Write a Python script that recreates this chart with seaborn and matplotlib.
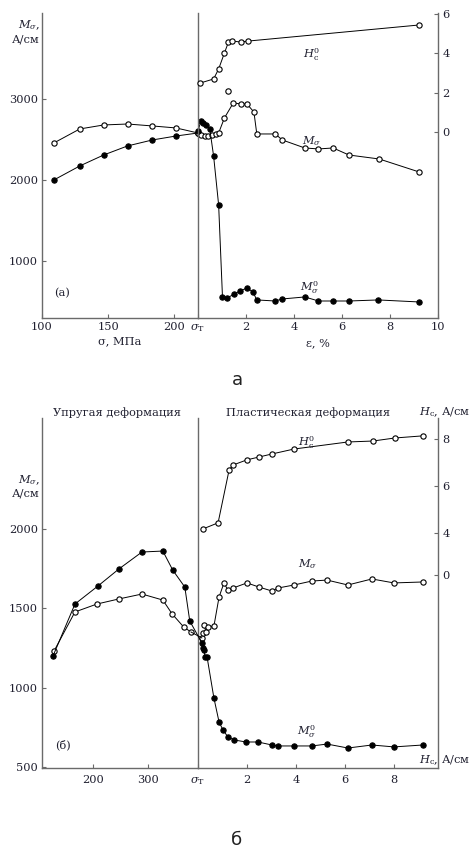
import numpy as np
import pandas as pd
import matplotlib
matplotlib.use("Agg")
import matplotlib.pyplot as plt
from matplotlib.patches import ConnectionPatch
import seaborn as sns

# ---------------- panel (а) ----------------
# elastic part: sigma, MPa
a_sigma = [109, 128.6, 146.6, 164.7, 183.5, 201.5, 218]
a_M_open = [2457, 2630, 2679, 2691, 2667, 2642, 2580]
a_M_fill = [2000, 2173, 2308, 2420, 2494, 2543, 2580]
# plastic part: eps, %
a_eps_Hc = [0.08, 0.65, 0.86, 1.10, 1.27, 1.43, 1.80, 2.08, 9.22]
a_Hc = [2.49, 2.70, 3.21, 4.02, 4.58, 4.63, 4.58, 4.63, 5.45]
a_eps_M = [0.0, 0.12, 0.29, 0.41, 0.57, 0.73, 0.86, 1.10, 1.47, 1.80, 2.04,
           2.33, 2.45, 3.22, 3.51, 4.45, 5.02, 5.63, 6.29, 7.55, 9.22]
a_M = [2580, 2555, 2543, 2543, 2555, 2568, 2580, 2765, 2951, 2938, 2938,
       2839, 2568, 2568, 2494, 2395, 2383, 2395, 2308, 2259, 2098]
a_eps_M_extra = [1.27]
a_M_extra = [3099]
a_eps_M0 = [0.0, 0.12, 0.20, 0.33, 0.49, 0.65, 0.86, 1.02, 1.22, 1.51, 1.76,
            2.04, 2.29, 2.45, 3.22, 3.51, 4.45, 5.02, 5.63, 6.29, 7.51, 9.22]
a_M0 = [2605, 2728, 2704, 2679, 2630, 2296, 1691, 555, 542, 592, 629,
        666, 616, 518, 505, 530, 555, 505, 505, 505, 518, 493]

# ---------------- panel (б) ----------------
b_sigma_fill = [127, 167, 209, 247, 289, 327, 345, 367, 376]
b_M_fill = [1199, 1527, 1641, 1748, 1855, 1861, 1741, 1634, 1420]
b_sigma_open = [129, 167, 207, 247, 289, 327, 344, 365, 378]
b_M_open = [1231, 1477, 1527, 1559, 1590, 1552, 1464, 1382, 1351]
b_eps_M = [0.16, 0.20, 0.33, 0.24, 0.41, 0.65, 0.86, 1.06, 1.22, 1.43, 2.0,
           2.49, 3.02, 3.27, 3.92, 4.65, 5.27, 6.12, 7.10, 8.0, 9.18]
b_M = [1313, 1344, 1351, 1395, 1382, 1388, 1571, 1660, 1615, 1628, 1660,
       1634, 1609, 1628, 1647, 1672, 1678, 1647, 1685, 1660, 1666]
b_eps_M0 = [0.16, 0.20, 0.24, 0.29, 0.37, 0.65, 0.86, 1.02, 1.22, 1.47, 1.96,
            2.45, 3.02, 3.27, 3.92, 4.65, 5.27, 6.12, 7.10, 8.0, 9.18]
b_M0 = [1281, 1250, 1237, 1193, 1193, 934, 783, 733, 689, 670, 657,
        657, 638, 632, 632, 632, 644, 619, 638, 626, 638]
b_eps_Hc = [0.2, 0.82, 1.27, 1.43, 2.0, 2.49, 3.02, 3.92, 6.12, 7.14, 8.04, 9.18]
b_Hc = [4.17, 4.43, 6.68, 6.89, 7.11, 7.23, 7.36, 7.57, 7.87, 7.91, 8.04, 8.13]

# ticks
a_sigma_ticks = [100, 150, 200]
a_eps_ticks = [0, 2, 4, 6, 8, 10]
a_M_ticks = [1000, 2000, 3000]
a_Hc_ticks = [0, 2, 4, 6]
b_sigma_ticks = [200, 300]
b_eps_ticks = [0, 2, 4, 6, 8]
b_M_ticks = [500, 1000, 1500, 2000]
b_Hc_ticks = [2.2, 4, 6, 8]          # axis is broken in the original: lowest mark reads 0
b_Hc_ticklabels = ["0", "4", "6", "8"]
sigT = r"$\sigma_\mathrm{T}$"

sns.set_style("ticks")
plt.rcParams["font.family"] = ["DejaVu Serif"]
plt.rcParams["mathtext.fontset"] = "dejavuserif"
FS = 8.2
TXT = "#202030"
SP = "#6a6a6a"

W, H = 471, 848
fig = plt.figure(figsize=(W / 100, H / 100), dpi=100)


def box(x0, x1, y0, y1):
    return [x0 / W, 1 - y1 / H, (x1 - x0) / W, (y1 - y0) / H]


def curve(ax, x, y, filled):
    sns.lineplot(x=x, y=y, ax=ax, estimator=None, sort=False, color="black",
                 lw=0.7, marker="o", markersize=3.8,
                 markerfacecolor="black" if filled else "white",
                 markeredgecolor="black", markeredgewidth=0.8, clip_on=False)


def style(ax):
    for s in ax.spines.values():
        s.set_color(SP)
        s.set_linewidth(1.0)
    ax.spines["top"].set_visible(False)
    ax.tick_params(direction="in", length=3, color=SP, labelsize=FS,
                   labelcolor=TXT, pad=3)


def link(axA, xa, ya, axB, xb, yb):
    con = ConnectionPatch(xyA=(xa, ya), coordsA=axA.transData,
                          xyB=(xb, yb), coordsB=axB.transData,
                          color="black", lw=0.7)
    fig.add_artist(con)


def panel(top, bot, xl, xm, xr):
    axL = fig.add_axes(box(xl, xm, top, bot))
    axR = fig.add_axes(box(xm, xr, top, bot), sharey=axL)
    axH = axR.twinx()
    for ax in (axL, axR, axH):
        style(ax)
        ax.set_facecolor("none")
    axL.spines["right"].set_visible(False)
    axR.spines["right"].set_visible(False)
    axH.spines["left"].set_visible(False)
    axH.spines["bottom"].set_visible(False)
    axR.tick_params(axis="y", left=False, labelleft=False)
    return axL, axR, axH


# ---- panel (а)
axL, axR, axH = panel(13, 318, 42, 198, 438)
curve(axL, a_sigma, a_M_open, False)
curve(axL, a_sigma, a_M_fill, True)
curve(axR, a_eps_M, a_M, False)
sns.scatterplot(x=a_eps_M_extra, y=a_M_extra, ax=axR, s=15, color="white",
                edgecolor="black", linewidth=0.8, zorder=5)
curve(axR, a_eps_M0, a_M0, True)
curve(axH, a_eps_Hc, a_Hc, False)
axL.set_xlim(100, 218)
axL.set_ylim(295, 4062)
axR.set_xlim(0, 10)
axH.set_ylim(-9.47, 6.06)
axL.set_xticks(a_sigma_ticks)
axL.set_yticks(a_M_ticks)
axR.set_xticks(a_eps_ticks, [sigT] + [str(t) for t in a_eps_ticks[1:]])
axH.set_yticks(a_Hc_ticks)
axL.set_xlabel("σ, МПа", fontsize=FS, color=TXT, labelpad=3)
axR.set_xlabel("ε, %", fontsize=FS, color=TXT, labelpad=3)
axL.set_ylabel("")
axH.set_ylabel("")
axR.set_ylabel("")

fig.text(40 / W, 1 - 25 / H, r"$M_\sigma$,", ha="right", va="center", fontsize=FS, color=TXT)
fig.text(40 / W, 1 - 40 / H, "А/см", ha="right", va="center", fontsize=FS, color=TXT)
fig.text(62 / W, 1 - 293 / H, "(а)", ha="center", va="center", fontsize=FS, color=TXT)
fig.text(312 / W, 1 - 55 / H, r"$H_\mathrm{c}^0$", ha="center", va="center", fontsize=FS, color=TXT)
fig.text(312 / W, 1 - 141 / H, r"$M_\sigma$", ha="center", va="center", fontsize=FS, color=TXT)
fig.text(310 / W, 1 - 288 / H, r"$M_\sigma^0$", ha="center", va="center", fontsize=FS, color=TXT)
fig.text(237 / W, 1 - 380 / H, "а", ha="center", va="center", fontsize=13,
         color="#222222", family=["DejaVu Sans"])

# ---- panel (б)
bxL, bxR, bxH = panel(418, 768, 42, 198, 438)
curve(bxL, b_sigma_open, b_M_open, False)
curve(bxL, b_sigma_fill, b_M_fill, True)
curve(bxR, b_eps_M, b_M, False)
curve(bxR, b_eps_M0, b_M0, True)
curve(bxH, b_eps_Hc, b_Hc, False)
bxL.set_xlim(107, 391)
bxL.set_ylim(493, 2700)
bxR.set_xlim(0, 9.8)
bxH.set_ylim(-6.0, 8.89)
bxL.set_xticks(b_sigma_ticks)
bxL.set_yticks(b_M_ticks)
bxR.set_xticks(b_eps_ticks, [sigT] + [str(t) for t in b_eps_ticks[1:]])
bxH.set_yticks(b_Hc_ticks, b_Hc_ticklabels)
for ax in (bxL, bxR, bxH):
    ax.set_xlabel("")
    ax.set_ylabel("")
    ax.tick_params(axis="x", pad=5)
link(bxL, b_sigma_open[-1], b_M_open[-1], bxR, b_eps_M[0], b_M[0])
link(bxL, b_sigma_fill[-1], b_M_fill[-1], bxR, b_eps_M0[0], b_M0[0])

fig.text(117 / W, 1 - 413 / H, "Упругая деформация", ha="center", va="center", fontsize=FS, color=TXT)
fig.text(308 / W, 1 - 413 / H, "Пластическая деформация", ha="center", va="center", fontsize=FS, color=TXT)
fig.text(470 / W, 1 - 412 / H, r"$H_\mathrm{c}$, А/см", ha="right", va="center", fontsize=FS, color=TXT)
fig.text(470 / W, 1 - 760 / H, r"$H_\mathrm{c}$, А/см", ha="right", va="center", fontsize=FS, color=TXT)
fig.text(40 / W, 1 - 480 / H, r"$M_\sigma$,", ha="right", va="center", fontsize=FS, color=TXT)
fig.text(40 / W, 1 - 494 / H, "А/см", ha="right", va="center", fontsize=FS, color=TXT)
fig.text(63 / W, 1 - 745 / H, "(б)", ha="center", va="center", fontsize=FS, color=TXT)
fig.text(307 / W, 1 - 443 / H, r"$H_\mathrm{c}^0$", ha="center", va="center", fontsize=FS, color=TXT)
fig.text(308 / W, 1 - 564 / H, r"$M_\sigma$", ha="center", va="center", fontsize=FS, color=TXT)
fig.text(307 / W, 1 - 732 / H, r"$M_\sigma^0$", ha="center", va="center", fontsize=FS, color=TXT)
fig.text(237 / W, 1 - 840 / H, "б", ha="center", va="center", fontsize=13,
         color="#222222", family=["DejaVu Sans"])

fig.savefig("out.png", dpi=100, facecolor="white")
